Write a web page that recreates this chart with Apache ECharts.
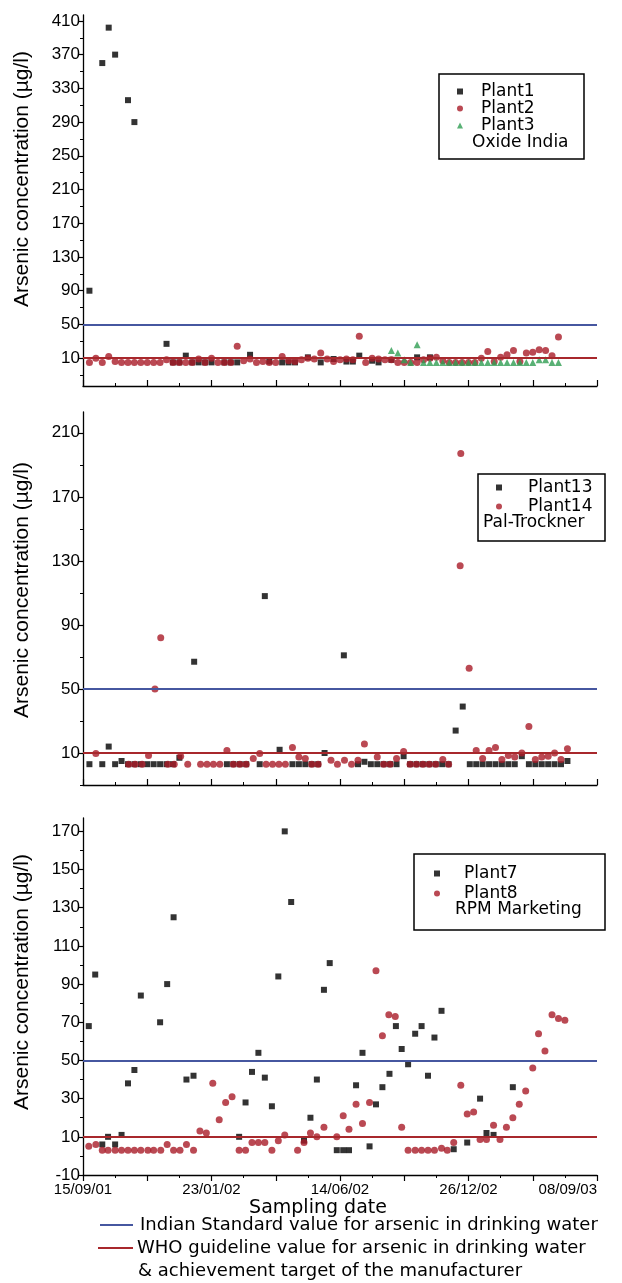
<!DOCTYPE html>
<html>
<head>
<meta charset="utf-8">
<title>Arsenic concentration by plant</title>
<script src="https://cdn.jsdelivr.net/npm/echarts@6/dist/echarts.min.js"></script>
<style>
  html, body { margin: 0; padding: 0; background: #fff; }
  #chart { width: 622px; height: 1283px; }
</style>
</head>
<body>
<div id="chart"></div>
<script>

// x = sample number along the sampling date axis, y = arsenic (µg/l)
let date_labels = ['15/09/01', '23/01/02', '14/06/02', '26/12/02', '08/09/03'];

let indian_standard = 50;
let who_guideline = 10;

// Oxide India
let plant1 = [[1,90],[3,360],[4,402],[5,370],[7,316],[8,290],[13,27],[14,5],[15,5],[16,13],[17,5],[18,5],[19,5],
    [20,5],[22,5],[23,5],[24,5],[26,14],[29,6],[31,5],[32,5],[33,5],[35,11],[37,5],[39,9],[41,6],[42,6],[43,13],
    [45,7],[46,5],[48,8],[52,11],[54,11]];
let plant2 = [[1,5],[2,10],[3,5],[4,12],[5,6],[6,5],[7,5],[8,5],[9,5],[10,5],[11,5],[12,5],[13,8],[14,5],[15,5],
    [16,5],[17,5],[18,9],[19,5],[20,10],[21,5],[22,5],[23,5],[24,24],[25,7],[26,9],[27,5],[28,6],[29,5],[30,5],
    [31,12],[32,7],[33,6],[34,8],[35,10],[36,9],[37,16],[38,9],[39,6],[40,8],[41,9],[42,8],[43,36],[44,5],[45,10],
    [46,9],[47,8],[48,8],[49,5],[50,5],[51,5],[52,5],[53,8],[54,10],[55,11],[56,7],[57,5],[58,5],[59,5],[60,5],
    [61,5],[62,10],[63,18],[64,6],[65,11],[66,14],[67,19],[68,6],[69,16],[70,17],[71,20],[72,19],[73,13],[74,35]];
let plant3 = [[48,19],[49,16],[50,8],[51,5],[52,26],[53,5],[54,5],[55,5],[56,5],[57,5],[58,5],[59,5],[60,5],
    [61,5],[62,5],[63,5],[64,5],[65,5],[66,5],[67,5],[68,5],[69,5],[70,5],[71,8],[72,8],[73,5],[74,5]];

// Pal-Trockner
let plant13 = [[1,3],[3,3],[4,14],[5,3],[6,5],[7,3],[8,3],[9,3],[10,3],[11,3],[12,3],[13,3],[14,3],[15,7],[17.3,67],
    [22.4,3],[23.4,3],[24.4,3],[25.4,3],[27.5,3],[28.3,108],[30.6,12],[32.6,3],[33.6,3],[34.6,3],[35.6,3],[36.6,3],
    [37.6,10],[40.6,71],[42.8,3],[43.8,4.5],[44.8,3],[45.8,3],[46.8,3],[47.8,3],[48.8,3],[49.9,8],[50.9,3],[51.9,3],
    [52.9,3],[53.9,3],[54.9,3],[55.9,3],[56.9,3],[58,24],[59.1,39],[60.2,3],[61.2,3],[62.2,3],[63.2,3],[64.2,3],
    [65.2,3],[66.2,3],[67.2,3],[68.3,8],[69.4,3],[70.4,3],[71.4,3],[72.4,3],[73.4,3],[74.4,3],[75.4,5]];
let plant14 = [[2,9.6],[7.1,3],[8.1,3],[9.2,3],[10.2,8.5],[11.2,50],[12.1,82],[13.2,3],[14.2,3],[15.2,8],[16.3,3],
    [18.3,3],[19.3,3],[20.3,3],[21.3,3],[22.4,11.5],[23.4,3],[24.4,3],[25.4,3],[26.5,6.5],[27.5,9.6],[28.5,3],
    [29.5,3],[30.5,3],[31.5,3],[32.6,13.5],[33.6,7.5],[34.6,6.5],[35.6,3],[36.6,3],[38.6,5.5],[39.6,3],[40.7,5.5],
    [41.8,3],[42.8,5.5],[43.8,15.6],[45.8,7.5],[46.8,3],[47.8,3],[48.8,6.5],[49.9,11],[50.9,3],[51.9,3],[52.9,3],
    [53.9,3],[54.9,3],[56,6],[56.9,3],[58.7,127],[58.8,197],[60.1,63],[61.2,11.5],[62.2,6.5],[63.2,11.5],
    [64.2,13.5],[65.2,6],[66.2,8.5],[67.2,7.5],[68.3,10],[69.4,26.6],[70.4,6],[71.4,7.5],[72.4,8],[73.4,10],
    [74.4,6],[75.4,12.7]];

// RPM Marketing
let plant7 = [[0.9,68],[1.9,95],[3,6],[3.9,10],[5,6],[6,11],[7,38],[8,45],[9,84],[12,70],[13.1,90],[14.1,125],
    [16.1,40],[17.2,42],[24.3,10],[25.3,28],[26.3,44],[27.3,54],[28.3,41],[29.4,26],[30.4,94],[31.4,170],
    [32.4,133],[34.4,8],[35.4,20],[36.4,40],[37.5,87],[38.4,101],[39.5,3],[40.5,3],[41.4,3],[42.5,37],[43.5,54],
    [44.6,5],[45.6,27],[46.6,36],[47.7,43],[48.7,68],[49.6,56],[50.6,48],[51.7,64],[52.7,68],[53.7,42],[54.7,62],
    [55.8,76],[57.7,3.5],[59.8,7],[61.8,30],[62.8,12],[63.9,11],[66.9,36]];
let plant8 = [[0.9,5],[2,6],[3,3],[3.9,3],[5,3],[6,3],[7,3],[8,3],[9,3],[10.1,3],[11,3],[12.1,3],[13.1,6],[14.1,3],
    [15.1,3],[16.1,6],[17.2,3],[18.2,13],[19.2,12],[20.2,38],[21.2,19],[22.2,28],[23.2,31],[24.3,3],[25.3,3],
    [26.3,7],[27.3,7],[28.3,7],[29.4,3],[30.4,8],[31.4,11],[33.4,3],[34.4,7],[35.4,12],[36.4,10],[37.5,15],
    [39.5,10],[40.5,21],[41.4,14],[42.5,27],[43.5,17],[44.6,28],[45.6,97],[46.6,63],[47.6,74],[48.6,73],[49.6,15],
    [50.6,3],[51.7,3],[52.7,3],[53.7,3],[54.7,3],[55.8,4],[56.7,3],[57.7,7],[58.8,37],[59.8,22],[60.8,23],
    [61.8,8.6],[62.8,8.6],[63.9,16],[64.9,8.6],[65.9,15],[66.9,20],[67.9,27],[68.9,34],[70,46],[70.9,64],
    [71.9,55],[73,74],[74,72],[75,71]];

// y tick labels and the unlabelled ticks between them
let ticks_top = [10, 50, 90, 130, 170, 210, 250, 290, 330, 370, 410];
let minor_top = [-10, 30, 70, 110, 150, 190, 230, 270, 310, 350, 390];
let ticks_mid = [10, 50, 90, 130, 170, 210];
let minor_mid = [-10, 30, 70, 110, 150, 190];
let ticks_low = [-10, 10, 30, 50, 70, 90, 110, 130, 150, 170];
let minor_low = [0, 20, 40, 60, 80, 100, 120, 140, 160];


let blue = '#4657a0';
let dark_red = '#a8282c';
let red = '#a91c28';
let green = '#2f9e52';
let label_font = '"Liberation Sans", Arial, sans-serif';
let text_font = '"DejaVu Sans", Verdana, sans-serif';


document.addEventListener("DOMContentLoaded", () => {
    draw_chart();
});


function x_axis(grid, with_labels) {
    return {
        type: 'value',
        gridIndex: grid,
        min: 0,
        max: 80,
        interval: 10,
        axisLine: { show: true, onZero: false, lineStyle: { color: '#000', width: 1.3 } },
        axisTick: { show: true, inside: !with_labels, length: 6, lineStyle: { color: '#000', width: 1.2 } },
        minorTick: { show: true, splitNumber: 2, length: 3, lineStyle: { color: '#000', width: 1 } },
        splitLine: { show: false },
        axisLabel: {
            show: with_labels,
            margin: 7,
            color: '#000',
            fontSize: 15,
            fontFamily: label_font,
            alignMaxLabel: 'right',
            formatter: function (v) {
                return v % 20 === 0 ? date_labels[v / 20] : '';
            }
        }
    };
}


function y_axes(grid, min, max, labels, minor) {
    return [{
        type: 'value',
        gridIndex: grid,
        min: min,
        max: max,
        axisLine: { show: true, onZero: false, lineStyle: { color: '#000', width: 1.3 } },
        axisTick: { show: true, length: 5, customValues: labels, lineStyle: { color: '#000', width: 1.2 } },
        axisLabel: { customValues: labels, margin: 3, color: '#000', fontSize: 17, fontFamily: label_font },
        splitLine: { show: false }
    }, {
        type: 'value',
        gridIndex: grid,
        position: 'left',
        min: min,
        max: max,
        axisLine: { show: false },
        axisTick: { show: true, length: 3, customValues: minor, lineStyle: { color: '#000', width: 1 } },
        axisLabel: { show: false },
        splitLine: { show: false }
    }];
}


function scatter(name, grid, data, symbol, color, size) {
    return {
        name: name,
        type: 'scatter',
        xAxisIndex: grid,
        yAxisIndex: grid * 2,
        symbol: symbol,
        symbolSize: size,
        itemStyle: { color: color },
        z: 3,
        data: data
    };
}


function limits(grid) {
    return {
        type: 'scatter',
        xAxisIndex: grid,
        yAxisIndex: grid * 2,
        data: [],
        z: 1,
        markLine: {
            silent: true,
            symbol: 'none',
            label: { show: false },
            data: [
                { yAxis: indian_standard, lineStyle: { color: blue, width: 2, type: 'solid' } },
                { yAxis: who_guideline, lineStyle: { color: dark_red, width: 2, type: 'solid' } }
            ]
        }
    };
}


function legend_for(names, left, top, gap, pad) {
    return {
        data: names,
        orient: 'vertical',
        left: left,
        top: top,
        padding: 0,
        itemGap: gap,
        itemWidth: 6,
        itemHeight: 6,
        selectedMode: false,
        textStyle: { fontSize: 17, fontFamily: text_font, color: '#000', lineHeight: 16, padding: [0, 0, 0, pad] }
    };
}


function box_text(text, x, y, size) {
    return {
        type: 'text',
        x: x,
        y: y,
        style: { text: text, fill: '#000', font: size + 'px ' + text_font, verticalAlign: 'middle' }
    };
}


function axis_title(y) {
    return {
        type: 'text',
        x: 22,
        y: y,
        rotation: Math.PI / 2,
        style: {
            text: 'Arsenic concentration (µg/l)',
            fill: '#000',
            font: '21px ' + label_font,
            align: 'center',
            verticalAlign: 'middle'
        }
    };
}


function draw_chart() {

    var chart = echarts.init(document.querySelector("#chart"), null, { renderer: 'canvas' });

    chart.setOption({
        animation: false,
        backgroundColor: '#fff',
        grid: [
            { left: 83, right: 25, top: 15, height: 371 },
            { left: 83, right: 25, top: 412, height: 373 },
            { left: 83, right: 25, top: 818, height: 357 }
        ],
        xAxis: [x_axis(0, false), x_axis(1, false), x_axis(2, true)],
        yAxis: [].concat(
            y_axes(0, -23, 417, ticks_top, minor_top),
            y_axes(1, -10, 223, ticks_mid, minor_mid),
            y_axes(2, -10, 177, ticks_low, minor_low)
        ),
        legend: [
            legend_for(['Plant1', 'Plant2', 'Plant3'], 457, 83, 0, 13),
            legend_for(['Plant13', 'Plant14'], 496, 479, 2, 21),
            legend_for(['Plant7', 'Plant8'], 434, 865, 3, 19)
        ],
        series: [
            limits(0), limits(1), limits(2),
            scatter('Plant1', 0, plant1, 'rect', '#000', 6),
            scatter('Plant2', 0, plant2, 'circle', red, 7),
            scatter('Plant3', 0, plant3, 'triangle', green, 7),
            scatter('Plant13', 1, plant13, 'rect', '#000', 6),
            scatter('Plant14', 1, plant14, 'circle', red, 7),
            scatter('Plant7', 2, plant7, 'rect', '#000', 6),
            scatter('Plant8', 2, plant8, 'circle', red, 7)
        ],
        graphic: [
            axis_title(179), axis_title(590), axis_title(982),
            { type: 'rect', shape: { x: 439, y: 74, width: 145, height: 85 }, style: { fill: 'none', stroke: '#000', lineWidth: 1.5 } },
            box_text('Oxide India', 472, 143, 17),
            { type: 'rect', shape: { x: 478, y: 474, width: 127, height: 67 }, style: { fill: 'none', stroke: '#000', lineWidth: 1.5 } },
            box_text('Pal-Trockner', 483, 523, 17),
            { type: 'rect', shape: { x: 414, y: 854, width: 191, height: 76 }, style: { fill: 'none', stroke: '#000', lineWidth: 1.5 } },
            box_text('RPM Marketing', 455, 910, 17),
            {
                type: 'text', x: 318, y: 1208,
                style: { text: 'Sampling date', fill: '#000', font: '19px ' + text_font, align: 'center', verticalAlign: 'middle' }
            },
            { type: 'line', shape: { x1: 100, y1: 1225, x2: 133, y2: 1225 }, style: { stroke: blue, lineWidth: 2 } },
            box_text('Indian Standard value for arsenic in drinking water', 140, 1225, 18),
            { type: 'line', shape: { x1: 98, y1: 1248, x2: 133, y2: 1248 }, style: { stroke: dark_red, lineWidth: 2 } },
            box_text('WHO guideline value for arsenic in drinking water', 137, 1248, 18),
            box_text('& achievement target of the manufacturer', 138, 1271, 18)
        ]
    });

}
</script>
</body>
</html>
